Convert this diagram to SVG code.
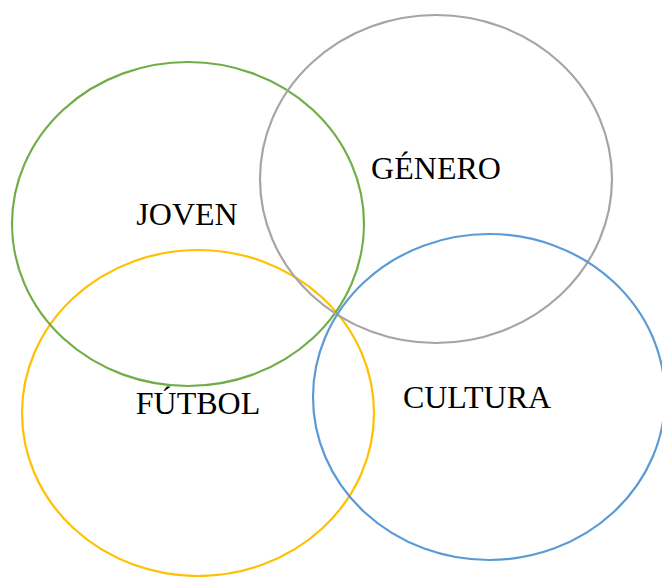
<svg xmlns="http://www.w3.org/2000/svg" width="662" height="577" viewBox="0 0 662 577">
<style>
.c{fill:none;stroke-width:2.2}
.t{font-family:"Liberation Serif",serif;font-size:32px;fill:#000;text-anchor:middle}
</style>
<rect width="662" height="577" fill="#fff"/>
<g id="futbol"><ellipse class="c" cx="198" cy="413" rx="176" ry="163" stroke="#FFC000"/><text class="t" x="198" y="414">FÚTBOL</text></g>
<g id="joven"><ellipse class="c" cx="188" cy="224" rx="176" ry="162" stroke="#70AD47"/><text class="t" x="187" y="225">JOVEN</text></g>
<g id="genero"><ellipse class="c" cx="436" cy="179" rx="176" ry="164" stroke="#A5A5A5"/><text class="t" x="436" y="179">GÉNERO</text></g>
<g id="cultura"><ellipse class="c" cx="489" cy="397" rx="176" ry="163" stroke="#5B9BD5"/><text class="t" x="477" y="408">CULTURA</text></g>
<g id="connectors"/>
</svg>
